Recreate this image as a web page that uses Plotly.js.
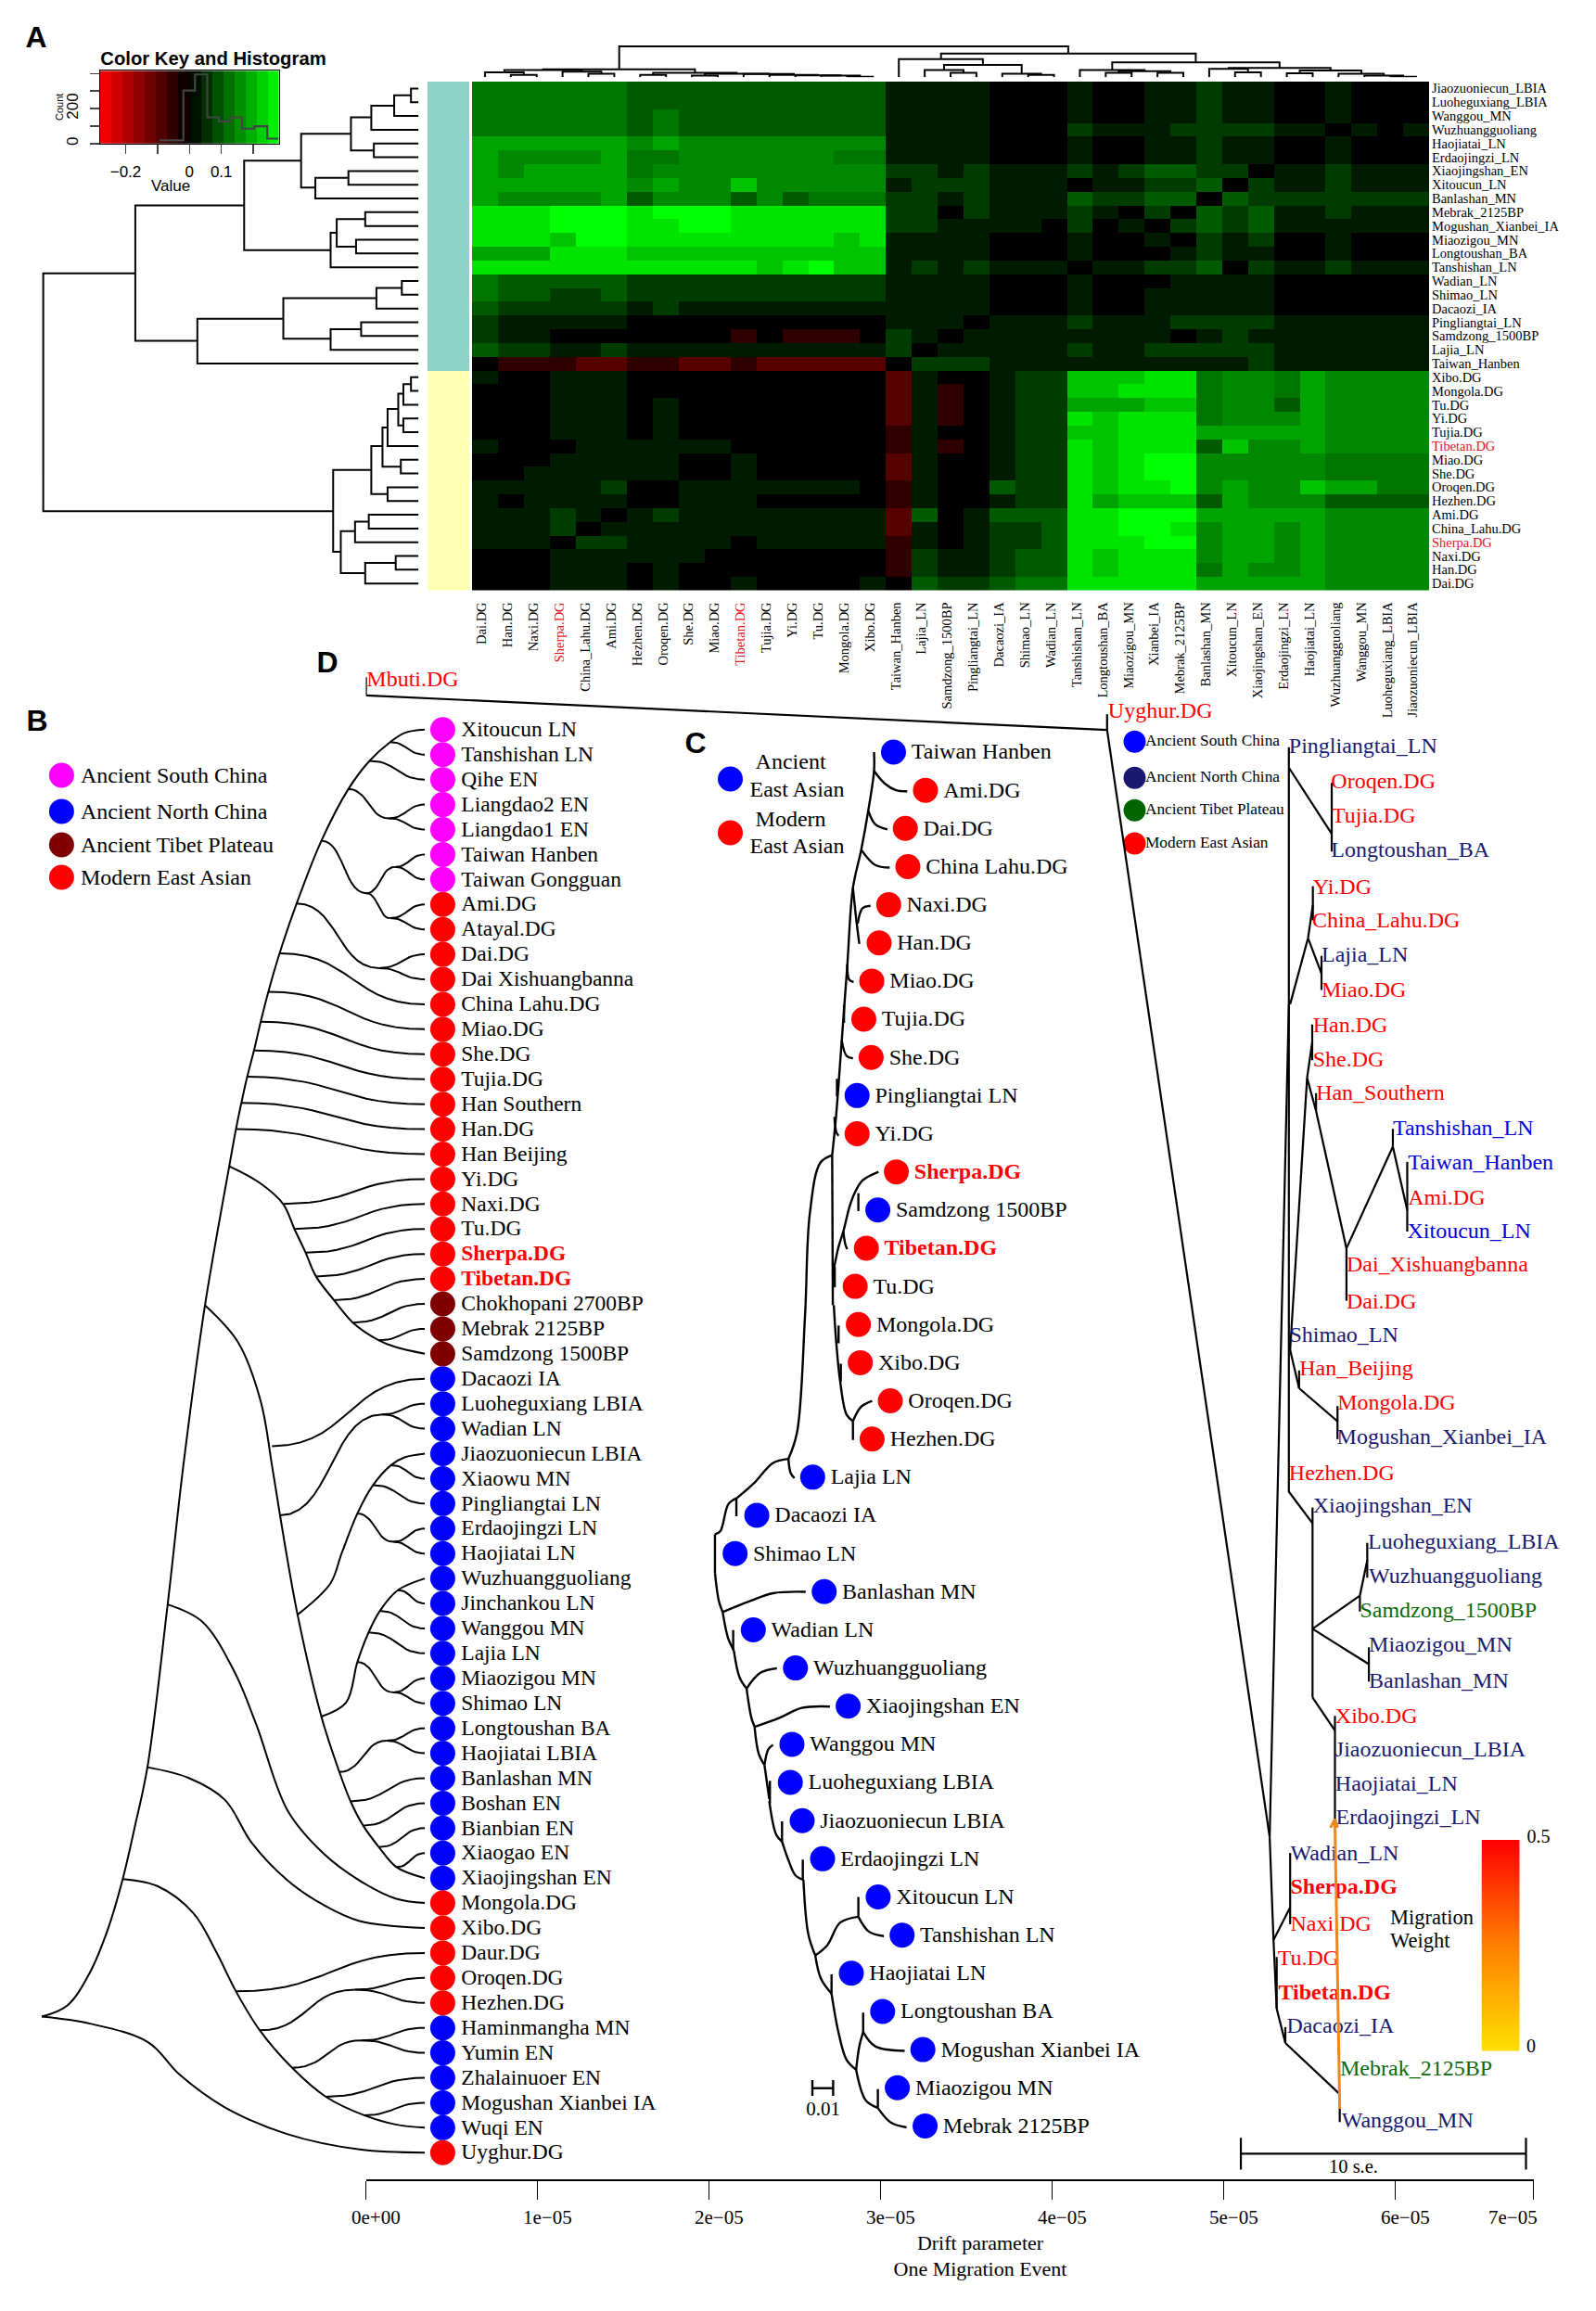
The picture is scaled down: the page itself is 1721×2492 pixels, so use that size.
<!DOCTYPE html>
<html><head><meta charset="utf-8">
<script src="https://cdn.plot.ly/plotly-3.0.1.min.js"></script>
<style>html,body{margin:0;padding:0;background:#fff}#g{width:1721px;height:2492px}</style>
</head><body><div id="g"></div>
<script>
/* ---------- PANEL A DATA ---------- */
const heatRows=["Jiaozuoniecun_LBIA","Luoheguxiang_LBIA","Wanggou_MN","Wuzhuangguoliang","Haojiatai_LN","Erdaojingzi_LN","Xiaojingshan_EN","Xitoucun_LN","Banlashan_MN","Mebrak_2125BP","Mogushan_Xianbei_IA","Miaozigou_MN","Longtoushan_BA","Tanshishan_LN","Wadian_LN","Shimao_LN","Dacaozi_IA","Pingliangtai_LN","Samdzong_1500BP","Lajia_LN","Taiwan_Hanben","Xibo.DG","Mongola.DG","Tu.DG","Yi.DG","Tujia.DG","Tibetan.DG","Miao.DG","She.DG","Oroqen.DG","Hezhen.DG","Ami.DG","China_Lahu.DG","Sherpa.DG","Naxi.DG","Han.DG","Dai.DG"];
const heatCols=["Dai.DG","Han.DG","Naxi.DG","Sherpa.DG","China_Lahu.DG","Ami.DG","Hezhen.DG","Oroqen.DG","She.DG","Miao.DG","Tibetan.DG","Tujia.DG","Yi.DG","Tu.DG","Mongola.DG","Xibo.DG","Taiwan_Hanben","Lajia_LN","Samdzong_1500BP","Pingliangtai_LN","Dacaozi_IA","Shimao_LN","Wadian_LN","Tanshishan_LN","Longtoushan_BA","Miaozigou_MN","Xianbei_IA","Mebrak_2125BP","Banlashan_MN","Xitoucun_LN","Xiaojingshan_EN","Erdaojingzi_LN","Haojiatai_LN","Wuzhuangguoliang","Wanggou_MN","Luoheguxiang_LBIA","Jiaozuoniecun_LBIA"];
/* cell levels: 0-9 = green steps, a/b = red steps */
const heatLevels=[
"444444 3333333 333 1111 000 1 00 11 2 11 00 1 000",
"444444 3333333 333 1111 000 1 00 11 2 11 00 1 000",
"444444 3 4 33333 333 1111 000 1 00 11 2 11 00 1 000",
"444444 3 4 33333 333 1 111 000 2 111 2222 11 0 1 0 1",
"666666 5 6 55555 555 1111 000 1 00 11 2 11 00 1 000",
"6 5555 6 4 4 55555 5 44 1111 000 1 00 11 2 11 00 1 000",
"6 5 6666 4 555555 555 2 2 1 2 111 2 1 2 33 22 0 11 2 111",
"666666 5 6 55 7 5 5 555 1 222 111 0 11 22 3 0 2 11 2 111",
"6 5555 6 3 555 3 5 3 444 2 2 1 2 111 3 22 33 0 3 2 222222",
"888 999 8 999 8 88 888 22 0 2 111 2 1 0 2 0 3 2 3 11 2 111",
"888 999 88 99 888 888 22 1111 0 2 0 1 0 2 3 2 3 111111",
"888 7 99 8888888 8 7 8 1111 000 1 00 1 0 2 1 2 00 1 000",
"666 888 7777777 777 1111 000 1 000 1 2 11 00 1 000",
"88888888888 7 8 9 77 1 2 1 2 111 0 11 22 3 0 2 11 2 111",
"4 33333 2222222 222 1111 000 1 000 1111 000000",
"4 33 22 3 2222222 222 1111 000 1 00 11111 000000",
"3 22222 1 2 11111 111 1111 000 1 00 11111 000000",
"2 11111 0000000 000 111 0 111 2 111 2222 111111",
"2 11 000 0000 a 0 a aa 0 2 1 0 11111111 0 1 2 1 111111",
"3 22 11 2 1111111 111 2 0 11111 2 11 22222 111111",
"0 aaa bb aa bb a bb bbb 0 222 1111111111 2 111111",
"1 00 111 0000000 000 b 1 00 1 22 7 7 7 8 8 4 55 4 6 5555",
"0 00 111 0000000 000 b 1 a 0 1 22 7 7 8 8 8 4 55 4 6 5555",
"000 111 0 1 00000 000 b 1 a 0 1 22 666 77 4 55 3 6 5555",
"000 111 0 1 00000 000 b 1 a 0 1 22 8 7 8 88 4 555 6 5555",
"000 111 0 1 00000 000 a 1 00 1 22 77 8 88 66666 5555",
"1 00 0 111111 000 000 a 1 a 0 1 22 8 7 8 88 3 7 5 5 6 5555",
"000 11111 00 1 00 000 b 1 00 1 22 8 7 8 99 55555 4444",
"00 1 11111 00 1 00 000 b 1 00 1 22 8 7 8 99 55555 4444",
"111 11 2 00 11111 11 0 a 1 00 3 22 8 7 8 8 9 5 6 55 7 66 44",
"1 0 1111 00 111 00 000 a 1 00 1 22 8 6 77 7 3 6 555 3333",
"111 2 1 0 1 2 111 11 111 b 3 0 1 3 33 88 99 9 66666 5555",
"111 2 0 1 1111111 111 b 1 0 1 2 2 3 88 99 8 5 66 5 6 5555",
"111 0 22 1111 0 11 111 a 1 0 1 2 2 3 88 8 99 5 66 5 6 5555",
"000 11111 1 00 0 0 000 a 2 11 2 33 8 7 888 5 66 5 6 5555",
"000 111 0 1 00000 000 a 2 11 2 33 8 7 888 4 6 5 5 6 5555",
"000 111 0 1 00 1 00 00 1 0 3 22 3 44 88 888 66666 5555"];
const levelValue={a:-0.05,b:-0.095,0:0,1:0.03,2:0.065,3:0.1,4:0.13,5:0.15,6:0.18,7:0.215,8:0.25,9:0.28};
const keyBins=[-0.2625,-0.2275,-0.1925,-0.1575,-0.1225,-0.0875,-0.0525,-0.0175,0.0175,0.0525,0.0875,0.1225,0.1575,0.1925,0.2275,0.2625];
const histEdges=[-0.095,-0.019,0.0175,0.056,0.092,0.127,0.165,0.203,0.244,0.279];
const histCounts=[18,303,395,150,126,150,85,99,28,28];
/* row dendrogram: [xNode,rowTop,rowBottom,xTopChild,xBottomChild] */
const rowDendro=[[808,0,1,823,823],[775,.5,2,808,823],[730,1.25,3,775,823],[735,4,5,823,823],[690,2.1,4.5,730,735],[685,6,7,823,823],[620,6.5,8,685,823],[592,3.3,7.2,690,620],[718,9,10,823,823],[700,11,12,823,823],[662,9.5,11.5,718,700],[650,10.5,13,662,823],[480,5.25,11.75,592,650],[790,14,15,823,823],[740,14.5,16,790,823],[710,17,18,823,823],[650,17.5,19,710,823],[557,15.25,18.2,740,650],[388,16.75,20,557,823],[266,8.5,18.35,480,388],[808,21,22,823,823],[793,21.5,23,808,823],[793,24,25,823,823],[783,22.2,24.5,793,793],[762,23.3,26,783,823],[788,27,28,823,823],[752,24.65,27.5,762,788],[762,29,30,823,823],[730,26,29.5,752,762],[725,31,32,823,823],[698,31.5,33,725,823],[778,34,35,823,823],[718,34.5,36,778,823],[670,32.2,35.25,698,718],[655,27.75,33.7,730,670],[85,13.45,30.75,266,655]];
/* column dendrogram: [colLeft,heightLeft,colRight,heightRight,heightTop] */
const colDendro=[[1,0,2,0,6],[0,0,1.5,6,12],[4,0,5,0,9],[3,0,4.5,9,14],[.75,12,3.75,14,18],[6,0,7,0,6],[8,0,9,0,4],[14,0,15,0,1],[13,0,14.5,1,4],[12,0,13.75,4,5],[11,0,12.875,5,6],[10,0,11.94,6,8],[8.5,4,10.97,8,9],[6.5,6,9.73,9,11],[2.25,18,8.12,11,20],[18,0,19,0,11],[17,0,18.5,11,18],[21,0,22,0,6],[20,0,21.5,6,9],[17.75,18,20.75,9,31],[16,0,19.25,31,45],[24,0,25,0,11],[26,0,27,0,11],[24.5,11,26.5,11,15],[23,0,25.5,15,18],[29,0,30,0,12],[28,0,29.5,12,21],[31,0,32,0,10],[35,0,36,0,1],[34,0,35.5,1,4],[33,0,34.75,4,9],[31.5,10,33.88,9,17],[28.75,21,32.69,17,23],[24.25,18,30.72,23,37],[17.63,45,27.48,37,59],[5.19,20,22.55,59,77]];

/* ---------- PANEL B DATA ---------- */
const bGroups={S:"#ff00ff",N:"#0000ff",T:"#7f0000",M:"#ff0000"};
const bTips=[["Xitoucun LN","S"],["Tanshishan LN","S"],["Qihe EN","S"],["Liangdao2 EN","S"],["Liangdao1 EN","S"],["Taiwan Hanben","S"],["Taiwan Gongguan","S"],["Ami.DG","M"],["Atayal.DG","M"],["Dai.DG","M"],["Dai Xishuangbanna","M"],["China Lahu.DG","M"],["Miao.DG","M"],["She.DG","M"],["Tujia.DG","M"],["Han Southern","M"],["Han.DG","M"],["Han Beijing","M"],["Yi.DG","M"],["Naxi.DG","M"],["Tu.DG","M"],["<b>Sherpa.DG</b>","M"],["<b>Tibetan.DG</b>","M"],["Chokhopani 2700BP","T"],["Mebrak 2125BP","T"],["Samdzong 1500BP","T"],["Dacaozi IA","N"],["Luoheguxiang LBIA","N"],["Wadian LN","N"],["Jiaozuoniecun LBIA","N"],["Xiaowu MN","N"],["Pingliangtai LN","N"],["Erdaojingzi LN","N"],["Haojiatai LN","N"],["Wuzhuangguoliang","N"],["Jinchankou LN","N"],["Wanggou MN","N"],["Lajia LN","N"],["Miaozigou MN","N"],["Shimao LN","N"],["Longtoushan BA","N"],["Haojiatai LBIA","N"],["Banlashan MN","N"],["Boshan EN","N"],["Bianbian EN","N"],["Xiaogao EN","N"],["Xiaojingshan EN","N"],["Mongola.DG","M"],["Xibo.DG","M"],["Daur.DG","M"],["Oroqen.DG","M"],["Hezhen.DG","M"],["Haminmangha MN","N"],["Yumin EN","N"],["Zhalainuoer EN","N"],["Mogushan Xianbei IA","N"],["Wuqi EN","N"],["Uyghur.DG","M"]];
/* backbones: [depth,row,depth,row,...] */
const bBackbones=[
[93,51.55,150,51.1,200,49.78,240,48.05,273,46.04,300,43.94,328,41.56,373,35.04,408,29.46,456,23.06,510,17.49,525,16,537,14.95,550,13.9,565,12.85,580,11.7,597,10.5,622,8.96,660,6.96,715,4.45,775,2.38,822,1.25,868,.5,900,.13,945,0],
[510,17.49,580,18.18,630,19,655,20,680,20.95,703,21.9,743,22.85,785,23.75,843,24.46,880,24.73,945,25],
[456,23.06,530,24.55,580,26.9,605,29.46,623,31.47,662,35.45,715,39.53,755,41.75,780,42.93,808,43.9,843,44.76,882,45.56,945,46],
[662,35.45,735,34.2,760,33,795,31.4,830,30.26,870,29.46,900,29.15,945,29],
[715,39.53,770,38.97,795,37.35,820,36.16,845,35.3,885,34.47,945,34],
[373,35.04,450,35.73,520,37.68,570,39.84,640,43.3,720,45.02,800,46.1,880,46.82,945,47],
[328,41.56,420,41.99,500,42.86,560,44.59,640,46.1,720,47.08,800,47.72,945,48],
[273,46.04,350,46.32,430,47.4,480,48.92,525,50.54,578,52.1,650,53.6,725,54.76,810,55.5,880,55.87,945,56],
[93,51.55,200,51.83,330,52.58,400,53.88,500,55.18,640,56.26,800,56.87,945,57]];
/* S-shaped side branches: [depth0,row0,depth1,row1] */
const bSide=[[868,.5,945,1],[822,1.25,945,2],[775,2.38,865,3.55],[865,3.55,945,3],[865,3.55,945,4],[715,4.45,815,6.55],[815,6.55,878,5.5],[878,5.5,945,5],[878,5.5,945,6],[815,6.55,868,7.55],[868,7.55,945,7],[868,7.55,945,8],[660,6.96,843,9.55],[843,9.55,945,9],[843,9.55,945,10],[622,8.96,945,11],[597,10.5,945,12],[580,11.7,945,13],[565,12.85,945,14],[550,13.9,945,15],[537,14.95,945,16],[525,16,945,17],[630,19,945,18],[655,20,945,19],[680,20.95,945,20],[703,21.9,945,21],[743,22.85,945,22],[785,23.75,945,23],[843,24.46,945,24],[605,28.7,945,26],[623,31.47,850,27.43],[850,27.43,945,27],[850,27.43,945,28],[870,29.46,945,30],[830,30.26,945,31],[795,31.4,875,32.53],[875,32.53,945,32],[875,32.53,945,33],[885,34.47,945,35],[845,35.3,945,36],[820,36.16,945,37],[795,37.35,875,38.56],[875,38.56,945,38],[875,38.56,945,39],[755,41.75,860,40.5],[860,40.5,945,40],[860,40.5,945,41],[780,42.93,945,42],[808,43.9,945,43],[843,44.76,945,44],[882,45.56,945,45],[525,50.54,945,49],[578,52.1,790,50.47],[790,50.47,945,50],[790,50.47,945,51],[650,53.6,805,52.5],[805,52.5,945,52],[805,52.5,945,53],[725,54.76,945,54],[810,55.5,945,55]];

/* ---------- PANEL C DATA ---------- */
const cTips=[["Taiwan Hanben","N",707],["Ami.DG","M",807],["Dai.DG","M",744],["China Lahu.DG","M",752],["Naxi.DG","M",692],["Han.DG","M",662],["Miao.DG","M",639],["Tujia.DG","M",614],["She.DG","M",637],["Pingliangtai LN","N",593],["Yi.DG","M",593],["<b>Sherpa.DG</b>","M",716],["Samdzong 1500BP","N",658],["<b>Tibetan.DG</b>","M",622],["Tu.DG","M",587],["Mongola.DG","M",597],["Xibo.DG","M",603],["Oroqen.DG","M",697],["Hezhen.DG","M",640],["Lajia LN","N",454],["Dacaozi IA","N",279],["Shimao LN","N",211],["Banlashan MN","N",490],["Wadian LN","N",268],["Wuzhuangguoliang","N",400],["Xiaojingshan EN","N",565],["Wanggou MN","N",389],["Luoheguxiang LBIA","N",384],["Jiaozuoniecun LBIA","N",421],["Erdaojingzi LN","N",485],["Xitoucun LN","N",659],["Tanshishan LN","N",734],["Haojiatai LN","N",575],["Longtoushan BA","N",673],["Mogushan Xianbei IA","N",799],["Miaozigou MN","N",719],["Mebrak 2125BP","N",806]];
const cUpper=[[646,93,646,130,628,208,606,285,580,360,562,515,545,660,527,810,515,885],[515,885,478,900,445,1000,430,1200,405,1430,378,1482],[378,1482,330,1490,270,1530,215,1560],[378,1482,385,1510,397,1520],[646,130,680,155,715,168,750,170],[628,208,650,235,688,245],[606,285,650,315,695,320],[580,360,590,420,600,470],[595,430,610,400,635,395],[562,510,568,540,582,545],[552,590,552,625],[545,660,560,690,580,695],[530,735,530,770],[522,810,528,840,535,847],[515,885,517,1180],[520,1110,535,1065,550,1035,570,985,585,960,610,935,660,918],[597,960,597,995],[550,1035,556,1060,562,1070],[520,1180,528,1255,540,1330,560,1395,580,1408],[580,1408,605,1380,640,1368],[580,1408,580,1445],[523,1105,523,1145],[535,1220,535,1255],[542,1295,542,1330]];
const cLower=[[215,32,215,72],[215,32,190,45,165,105,148,112],[148,112,148,198],[148,198,160,260,172,285],[172,285,260,260,330,243,432,240],[172,285,190,345,207,370],[205,325,205,370],[207,370,225,430,247,455],[247,455,290,420,342,410],[247,455,262,520,272,540],[272,540,350,520,420,498,508,495],[272,540,285,600,303,625],[303,625,315,590,330,580],[303,625,318,700],[320,660,320,710],[318,705,340,780,358,795],[358,750,358,795],[358,795,380,840,400,870,425,880],[423,835,423,880],[425,880,440,1000,462,1048],[462,1048,500,1025,540,975,597,962],[597,962,597,918],[597,962,630,995,677,1005],[462,1048,480,1100,513,1133],[513,1133,513,1090],[513,1133,535,1220,560,1280,590,1302],[590,1302,600,1250,612,1218],[612,1218,612,1175],[612,1218,650,1250,742,1260],[590,1302,620,1370,658,1387],[658,1387,658,1345],[658,1387,700,1420,748,1430],[453,1325,453,1360],[518,1325,518,1360],[453,1343,518,1343]];

/* ---------- PANEL D DATA ---------- */
const dColors={S:"#0000e0",N:"#191970",T:"#0a6a0a",M:"#ff0000"};
const dUpperTips=[["Pingliangtai_LN","N",610,118],["Oroqen.DG","M",742,188],["Tujia.DG","M",744,255],["Longtoushan_BA","N",742,322],["Yi.DG","M",685,395],["China_Lahu.DG","M",683,461],["Lajia_LN","N",712,528],["Miao.DG","M",712,598],["Han.DG","M",685,667],["She.DG","M",685,735],["Han_Southern","M",695,801],["Tanshishan_LN","S",935,869],["Taiwan_Hanben","S",982,937],["Ami.DG","M",982,1006],["Xitoucun_LN","S",980,1072],["Dai_Xishuangbanna","M",790,1137],["Dai.DG","M",790,1211],["Shimao_LN","N",612,1277],["Han_Beijing","M",643,1341],["Mongola.DG","M",762,1410],["Mogushan_Xianbei_IA","N",760,1477],["Hezhen.DG","M",610,1548],["Uyghur.DG","M",45,50],["Mbuti.DG","M",-2272,-12]];
const dLowerTips=[["Xiaojingshan_EN","N",685,43],["Luoheguxiang_LBIA","N",857,110],["Wuzhuangguoliang","N",860,176],["Samdzong_1500BP","T",832,241],["Miaozigou_MN","N",860,306],["Banlashan_MN","N",860,375],["Xibo.DG","M",755,442],["Jiaozuoniecun_LBIA","N",755,505],["Haojiatai_LN","N",755,569],["Erdaojingzi_LN","N",757,633],["Wadian_LN","N",615,701],["<b>Sherpa.DG</b>","M",615,765],["Naxi.DG","M",615,835],["Tu.DG","M",575,900],["<b>Tibetan.DG</b>","M",577,966],["Dacaozi_IA","N",603,1029],["Mebrak_2125BP","T",770,1110],["Wanggou_MN","N",775,1207]];
const dUpper=[[608,120,608,1584],[608,160,742,290],[742,190,742,325],[612,625,668,495],[668,495,683,430],[683,393,683,460],[668,495,710,565],[710,530,710,597],[612,1305,665,770],[665,770,681,700],[681,665,681,735],[665,770,693,835],[693,800,693,835],[693,835,788,1105],[788,1105,933,905],[933,870,933,905],[933,905,978,1030],[978,935,978,1072],[788,1105,788,1208],[612,1305,640,1380],[640,1345,640,1380],[640,1380,760,1445],[760,1415,760,1480],[40,55,40,86],[40,86,548,2262],[548,2262,608,625],[-2276,-18,-2276,18],[-2276,18,40,86]];
const dLower=[[608,15,682,75],[682,45,682,405],[682,275,830,212],[830,212,830,242],[830,212,853,145],[853,112,853,178],[682,275,858,342],[858,310,858,375],[682,405,752,468],[752,440,752,650],[548,670,560,865],[560,865,612,803],[612,700,612,835],[560,865,570,995],[570,897,570,995],[570,995,597,1060],[597,1030,597,1060],[597,1060,767,1157],[767,1157,767,1210],[458,1240,458,1300],[1349,1240,1349,1300],[458,1270,1349,1270]];
const migrationEdge=[767,1185,752,640];
const migrationHead=[738,652,752,636,760,652];
const migrationScale=[0,0.05,0.1,0.15,0.2,0.25,0.3,0.35,0.4,0.45,0.5];
const driftTicks=[0,1e-5,2e-5,3e-5,4e-5,5e-5,6e-5,6.805e-5];
const driftLabels=["0e+00","1e\u221205","2e\u221205","3e\u221205","4e\u221205","5e\u221205","6e\u221205","7e\u221205"];

/* ---------- BUILD ---------- */
const W=1721,H=2492,SERIF="Liberation Serif",SANS="Liberation Sans";
const layout={width:W,height:H,margin:{l:0,r:0,t:0,b:0},paper_bgcolor:"#fff",plot_bgcolor:"rgba(0,0,0,0)",showlegend:false,annotations:[]};
let nAx=0;
function panel(x0,x1,y0,y1,xr,yr,xo={},yo={}){
  nAx++;const s=nAx===1?"":nAx,xn="x"+s,yn="y"+s;
  layout["xaxis"+s]=Object.assign({domain:[x0/W,x1/W],range:xr,visible:false,anchor:yn,fixedrange:true,showgrid:false,zeroline:false},xo);
  layout["yaxis"+s]=Object.assign({domain:[1-y1/H,1-y0/H],range:yr,visible:false,anchor:xn,fixedrange:true,showgrid:false,zeroline:false},yo);
  return {xaxis:xn,yaxis:yn};
}
const traces=[];
function lines(ax,list,fx,fy,width,shape,color){
  const x=[],y=[];
  list.forEach(p=>{for(let i=0;i<p.length;i+=2){x.push(fx(p[i]));y.push(fy(p[i+1]));}x.push(null);y.push(null);});
  traces.push(Object.assign({type:"scatter",mode:"lines",x,y,hoverinfo:"skip",line:{color:color||"#000",width,shape:shape||"linear",smoothing:1}},ax));
}
function sig([x0,y0,x1,y1]){const o=[],m=(x0+x1)/2;
  for(let i=0;i<=14;i++){const t=i/14,u=1-t;
    o.push(u*u*u*x0+3*u*u*t*m+3*u*t*t*m+t*t*t*x1,u*u*u*y0+3*u*u*t*y0+3*u*t*t*y1+t*t*t*y1);}
  return o;}
const id=v=>v;
function texts(ax,x,y,text,size,color,family,pos){
  traces.push(Object.assign({type:"scatter",mode:"text",x,y,text,textposition:pos||"middle right",cliponaxis:false,hoverinfo:"skip",textfont:{family:family||SERIF,size,color}},ax));
}
function dots(ax,x,y,color,size){
  traces.push(Object.assign({type:"scatter",mode:"markers",x,y,cliponaxis:false,hoverinfo:"skip",marker:{size,color,line:{width:0}}},ax));
}

/* Page-level labels */
const pg=panel(0,W,0,H,[0,W],[H,0]);
texts(pg,[39,40,750,353],[43,780,804,717],["<b>A</b>","<b>B</b>","<b>C</b>","<b>D</b>"],32,"#000",SANS,"middle center");
texts(pg,[230],[65],["<b>Color Key and Histogram</b>"],20.3,"#000",SANS,"middle center");
texts(pg,[184],[202],["Value"],17,"#000",SANS,"middle center");

/* Panel A */
const heatZ=heatLevels.map(r=>r.replace(/ /g,"").split("").map(c=>levelValue[c]));
const redWrap=n=>(n==="Sherpa.DG"||n==="Tibetan.DG")?'<span style="color:#e8141c">'+n+"</span>":n;
const heatIdxX=heatCols.map((_,i)=>i),heatIdxY=heatRows.map((_,i)=>i);
const hA=panel(509,1541,88,636.6,[-.5,36.5],[36.5,-.5],
 {visible:true,tickmode:"array",tickvals:heatIdxX.map(i=>i-.12),ticktext:heatCols.map(redWrap),tickangle:-90,ticks:"outside",ticklen:6,tickcolor:"rgba(0,0,0,0)",tickfont:{family:SERIF,size:14.5,color:"#000"},showline:false},
 {visible:true,side:"right",tickmode:"array",tickvals:heatIdxY,ticktext:heatRows.map(redWrap),ticks:"",ticklabelstandoff:2,tickfont:{family:SERIF,size:14.5,color:"#000"},showline:false});
traces.push(Object.assign({type:"heatmap",x:heatIdxX,y:heatIdxY,z:heatZ,zmin:-.28,zmax:.28,showscale:false,hoverinfo:"skip",colorscale:[[0,"#ff0000"],[.5,"#000000"],[1,"#00ff00"]]},hA));
/* side colour strip */
const strip=panel(461,506,88,636.6,[0,1],[36.5,-.5]);
traces.push(Object.assign({type:"heatmap",x:[.5],y:heatIdxY,z:heatRows.map((_,i)=>[i<21?0:1]),zmin:0,zmax:1,showscale:false,hoverinfo:"skip",colorscale:[[0,"#8dd3c7"],[1,"#ffffb3"]]},strip));
/* row dendrogram */
const rd=panel(0,451.4,88,636.6,[0,823],[36.5,-.5]);
lines(rd,rowDendro.map(([x,a,b,xa,xb])=>[xa,a,x,a,x,b,xb,b]),id,id,2);
/* column dendrogram */
const cd=panel(509,1541,47,83.3,[-.5,36.5],[0,84]);
lines(cd,colDendro.map(([xl,hl,xr,hr,h])=>[xl,hl,xl,h,xr,h,xr,hr]),id,id,2);
/* colour key */
const key=panel(108,300.6,76.3,154.8,[-.28,.28],[0,416],
 {visible:true,tickmode:"array",tickvals:[-.2,-.1,0,.1,.2],ticktext:["\u22120.2","","0","0.1",""],ticks:"outside",ticklen:10,tickwidth:1.5,ticklabelstandoff:5,tickfont:{family:SANS,size:17,color:"#000"},showline:true,mirror:true,linecolor:"#000",linewidth:1},
 {visible:true,tickmode:"array",tickvals:[0,100,200,300,400],ticktext:["0","","200","",""],ticks:"outside",ticklen:10,tickwidth:1.5,ticklabelstandoff:6,tickangle:-90,tickfont:{family:SANS,size:17,color:"#000"},showline:true,mirror:true,linecolor:"#000",linewidth:1});
traces.push(Object.assign({type:"heatmap",x:keyBins,y:[0,416],z:[keyBins],zmin:-.28,zmax:.28,showscale:false,hoverinfo:"skip",colorscale:[[0,"#ff0000"],[.5,"#000000"],[1,"#00ff00"]]},key));
traces.push(Object.assign({type:"scatter",mode:"lines",x:histEdges,y:histCounts,hoverinfo:"skip",line:{shape:"hv",color:"#444",width:2.2}},key));
layout.annotations.push({xref:pg.xaxis,yref:pg.yaxis,x:64,y:116,text:"Count",textangle:-90,showarrow:false,font:{family:SANS,size:11,color:"#000"}});

/* Panel B */
const bAx=panel(0,760,759.9,2348.2,[0,1568],[58,-1]);
lines(bAx,bBackbones,id,id,2,"spline");
lines(bAx,bSide.map(sig),id,id,2);
const bRows=bTips.map((_,i)=>i);
dots(bAx,bTips.map(()=>985),bRows,bTips.map(t=>bGroups[t[1]]),27);
texts(bAx,bTips.map(()=>1026),bRows.map(r=>r+.05),bTips.map(t=>t[0]),23.5,bTips.map(t=>t[0].startsWith("<b>")?"#ff0000":"#000"));
/* B legend */
const bLegendLabels=["Ancient South China","Ancient North China","Ancient Tibet Plateau","Modern East Asian"];
const bLegendY=[836,875,911,946];
dots(pg,[66.4,66.4,66.4,66.4],bLegendY,["#ff00ff","#0000ff","#7f0000","#ff0000"],27);
texts(pg,[87,87,87,87],bLegendY.map(v=>v+1.5),bLegendLabels,24,"#000");

/* Panel C */
const rU=z=>(z-93)/75,rL=z=>20+(z-70)/84.8;
const cAx=panel(720,1260,769.85,2333.55,[0,1568],[37,-1]);
lines(cAx,cUpper,id,rU,2.4,"spline");
lines(cAx,cLower,id,rL,2.4,"spline");
const cRows=cTips.map((_,i)=>i);
const cCol={N:"#0000ff",M:"#ff0000"};
dots(cAx,cTips.map(t=>t[2]),cRows,cTips.map(t=>cCol[t[1]]),27);
texts(cAx,cTips.map(t=>t[2]+56),cRows.map(r=>r+.035),cTips.map(t=>t[0]),24,cTips.map(t=>t[0].startsWith("<b>")?"#ff0000":"#000"));
texts(cAx,[487],[rL(1392)],["0.01"],21,"#000",SERIF,"middle center");
dots(pg,[787.5,787.5],[840,898],["#0000ff","#ff0000"],27);
texts(pg,[852.6,859.5,852.6,859.5],[823,852.6,885,914],["Ancient","East Asian","Modern","East Asian"],24,"#000",SERIF,"middle center");

/* Panel D */
const y7=z=>740+z/1.823,y8=z=>1600+z/1.758;
const drift=z=>(1180+z/2.898-394.5)/185*1e-5;
const dAx=panel(394.5,1654,700,2349.6,[0,(1654-394.5)/185*1e-5],[2349.6,700],
 {visible:true,tickmode:"array",tickvals:driftTicks,showticklabels:false,ticks:"outside",ticklen:20,tickwidth:1.8,tickcolor:"#000",showline:true,linecolor:"#000",linewidth:2.4});
lines(dAx,dUpper,drift,y7,2.2);
lines(dAx,dLower,drift,y8,2.2);
const dAll=[...dUpperTips,...dLowerTips];
const dTxtX=dAll.map(t=>drift(t[2]-2));
const dTxtY=[...dUpperTips.map(t=>y7(t[3])+1),...dLowerTips.map(t=>y8(t[3])+1)];
texts(dAx,dTxtX,dTxtY,dAll.map(t=>t[0]),24,dAll.map(t=>dColors[t[1]]));
lines(dAx,[migrationEdge,migrationHead],drift,y8,3,"linear","#f0861e");
driftTicks.forEach((v,i)=>layout.annotations.push({xref:dAx.xaxis,yref:pg.yaxis,x:v,y:2391,xshift:i===7?-22:11,text:driftLabels[i],showarrow:false,font:{family:SERIF,size:21,color:"#000"}}));
texts(dAx,[drift(810)],[y8(1298)],["10 s.e."],20.5,"#000",SERIF,"middle center");
texts(pg,[1057,1057],[2420,2448],["Drift parameter","One Migration Event"],22,"#000",SERIF,"middle center");
/* D legend */
const dLegendY=[799.8,838.7,873.8,909.5];
dots(pg,[1223.5,1223.5,1223.5,1223.5],dLegendY,["#0000ff","#191970","#006400","#ff0000"],24);
texts(pg,[1235,1235,1235,1235],dLegendY,bLegendLabels,17.3,"#000");
/* migration weight bar */
const mw=panel(1597.5,1639,1984,2211.5,[0,1],[0,.5]);
traces.push(Object.assign({type:"heatmap",x:[0,1],y:migrationScale,z:migrationScale.map(v=>[v,v]),zsmooth:"best",zmin:0,zmax:.5,showscale:false,hoverinfo:"skip",colorscale:[[0,"#ffe000"],[.5,"#ff8000"],[1,"#ff0000"]]},mw));
texts(pg,[1499,1499],[2069,2094],["Migration","Weight"],22.5,"#000");
texts(pg,[1659,1651],[1982,2208],["0.5","0"],20,"#000",SERIF,"middle center");

Plotly.newPlot("g",traces,layout,{staticPlot:true,displayModeBar:false});
</script></body></html>
